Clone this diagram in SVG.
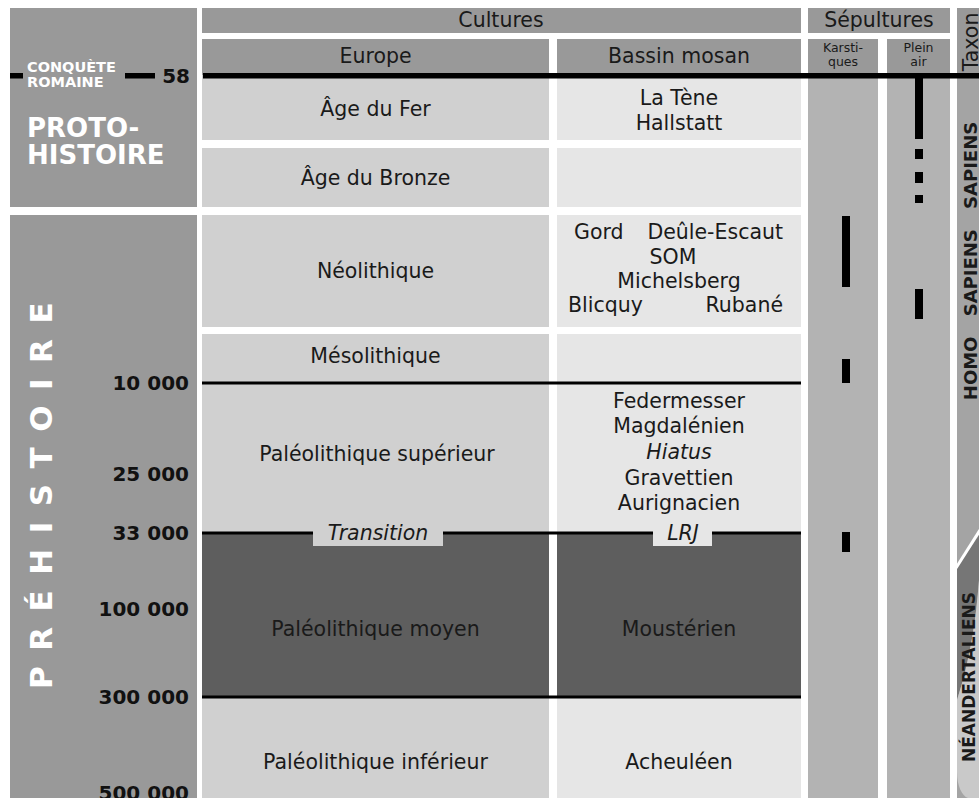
<svg xmlns="http://www.w3.org/2000/svg" width="979" height="798" viewBox="0 0 979 798">
<defs>
<style>
text{font-family:"DejaVu Sans","Liberation Sans",sans-serif;fill:#1a1a1a}
.hd{fill:#999999}
.eu{fill:#d0d0d0}
.bm{fill:#e6e6e6}
.dk{fill:#5e5e5e}
.sp{fill:#b3b3b3}
.t20{font-size:20.5px}
.mid{text-anchor:middle}
.end{text-anchor:end}
.it{font-style:italic}
.bw{font-weight:bold;fill:#ffffff}
.num{font-weight:bold;font-size:20px;text-anchor:end;fill:#111}
.bar{fill:#000}
.ln{fill:#000}
</style>
</defs>
<rect width="979" height="798" fill="#ffffff"/>

<g id="periode-protohistoire">
<rect class="hd" x="10" y="8" width="187" height="199"/>
<text class="bw" x="27" y="72" font-size="14.5">CONQUÈTE</text>
<text class="bw" x="27" y="86.5" font-size="14.5">ROMAINE</text>
<text class="bw" x="27" y="137" font-size="26">PROTO-</text>
<text class="bw" x="27" y="164" font-size="26">HISTOIRE</text>
</g>

<g id="periode-prehistoire">
<rect class="hd" x="10" y="215" width="187" height="590"/>
<text class="bw" transform="translate(52,488) rotate(-90)" font-size="31" letter-spacing="15.5" text-anchor="middle">PRÉHISTOIRE</text>
</g>

<g id="dates">
<text class="num" x="190" y="83">58</text>
<text class="num" x="189" y="390">10 000</text>
<text class="num" x="189" y="481">25 000</text>
<text class="num" x="189" y="540">33 000</text>
<text class="num" x="189" y="616">100 000</text>
<text class="num" x="189" y="704">300 000</text>
<text class="num" x="189" y="800">500 000</text>
</g>

<g id="entete-cultures">
<rect class="hd" x="202" y="8" width="599" height="25"/>
<text class="t20 mid" x="501" y="27">Cultures</text>
</g>
<g id="entete-europe">
<rect class="hd" x="202" y="39" width="347" height="36"/>
<text class="t20 mid" x="375.5" y="63">Europe</text>
</g>
<g id="entete-bassin">
<rect class="hd" x="557" y="39" width="244" height="36"/>
<text class="t20 mid" x="679" y="63">Bassin mosan</text>
</g>
<g id="entete-sepultures">
<rect class="hd" x="808" y="8" width="142" height="25"/>
<text class="t20 mid" x="879" y="27">Sépultures</text>
</g>
<g id="col-karstiques">
<rect class="hd" x="808" y="39" width="70" height="36"/>
<rect class="sp" x="808" y="75" width="70" height="730"/>
<text class="mid" x="843" y="52" font-size="12.5">Karsti-</text>
<text class="mid" x="843" y="66" font-size="12.5">ques</text>
</g>
<g id="col-plein-air">
<rect class="hd" x="887" y="39" width="63" height="36"/>
<rect class="sp" x="887" y="75" width="63" height="730"/>
<text class="mid" x="918.5" y="52" font-size="12.5">Plein</text>
<text class="mid" x="918.5" y="66" font-size="12.5">air</text>
</g>

<g id="col-taxon">
<rect class="hd" x="957" y="8" width="30" height="67"/>
<rect fill="#a4a4a4" x="957" y="75" width="30" height="730"/>
<path fill="#767676" d="M957,568 L979,535 L979,580 C976,620 970,660 957,700 Z"/>
<path fill="#c9c9c9" d="M979,580 C976,620 970,660 957,700 L957,772 C957,786 962,796 968,798 L979,798 Z"/>
<line x1="956" y1="568" x2="980" y2="530" stroke="#ffffff" stroke-width="3"/>
<text class="t20 mid" transform="translate(977.5,42) rotate(-90)">Taxon</text>
<text class="mid" transform="translate(977,261) rotate(-90)" font-size="18" font-weight="bold" word-spacing="14" fill="#111">HOMO SAPIENS SAPIENS</text>
<text class="mid" transform="translate(975,677) rotate(-90)" font-size="17" font-weight="bold" fill="#111">NÉANDERTALIENS</text>
</g>

<g id="age-fer">
<rect class="eu" x="202" y="75" width="347" height="65"/>
<text class="t20 mid" x="375.5" y="116">Âge du Fer</text>
</g>
<g id="bassin-fer">
<rect class="bm" x="557" y="75" width="244" height="65"/>
<text class="t20 mid" x="679" y="105">La Tène</text>
<text class="t20 mid" x="679" y="130">Hallstatt</text>
</g>
<g id="age-bronze">
<rect class="eu" x="202" y="148" width="347" height="59"/>
<text class="t20 mid" x="375.5" y="185">Âge du Bronze</text>
</g>
<g id="bassin-bronze">
<rect class="bm" x="557" y="148" width="244" height="59"/>
</g>
<g id="neolithique">
<rect class="eu" x="202" y="215" width="347" height="112"/>
<text class="t20 mid" x="375.5" y="278">Néolithique</text>
</g>
<g id="bassin-neolithique">
<rect class="bm" x="557" y="215" width="244" height="112"/>
<text class="t20" x="574" y="239">Gord</text>
<text class="t20 end" x="783" y="239">Deûle-Escaut</text>
<text class="t20 mid" x="673" y="264">SOM</text>
<text class="t20 mid" x="679" y="288">Michelsberg</text>
<text class="t20" x="568" y="312">Blicquy</text>
<text class="t20 end" x="783" y="312">Rubané</text>
</g>
<g id="mesolithique-paleo-sup">
<rect class="eu" x="202" y="334" width="347" height="199"/>
<text class="t20 mid" x="375.5" y="363">Mésolithique</text>
<text class="t20 mid" x="377" y="461">Paléolithique supérieur</text>
</g>
<g id="bassin-paleo-sup">
<rect class="bm" x="557" y="334" width="244" height="199"/>
<text class="t20 mid" x="679" y="408">Federmesser</text>
<text class="t20 mid" x="679" y="433">Magdalénien</text>
<text class="t20 mid it" x="679" y="459">Hiatus</text>
<text class="t20 mid" x="679" y="485">Gravettien</text>
<text class="t20 mid" x="679" y="510">Aurignacien</text>
</g>
<g id="paleo-moyen">
<rect class="dk" x="202" y="533" width="347" height="164"/>
<text class="t20 mid" x="375.5" y="636" fill="#0e0e0e">Paléolithique moyen</text>
</g>
<g id="bassin-paleo-moyen">
<rect class="dk" x="557" y="533" width="244" height="164"/>
<text class="t20 mid" x="679" y="636" fill="#0e0e0e">Moustérien</text>
</g>
<g id="paleo-inf">
<rect class="eu" x="202" y="697" width="347" height="110"/>
<text class="t20 mid" x="375.5" y="769">Paléolithique inférieur</text>
</g>
<g id="bassin-paleo-inf">
<rect class="bm" x="557" y="697" width="244" height="110"/>
<text class="t20 mid" x="679" y="769">Acheuléen</text>
</g>

<g id="connectors">
<rect class="ln" x="10" y="73" width="13" height="5.5"/>
<rect class="ln" x="125" y="73" width="30" height="5.5"/>
<rect class="ln" x="203" y="73" width="776" height="5.5"/>
<rect class="ln" x="202" y="381.5" width="599" height="3"/>
<rect class="ln" x="202" y="531.5" width="599" height="3"/>
<rect class="ln" x="202" y="695.5" width="599" height="3"/>
</g>

<g id="label-transition">
<rect class="eu" x="313" y="528" width="130" height="18"/>
<text class="t20 mid it" x="378" y="540">Transition</text>
</g>
<g id="label-lrj">
<rect class="bm" x="653" y="528" width="59" height="18"/>
<text class="t20 mid it" x="683" y="540">LRJ</text>
</g>

<g id="sepultures-marques">
<rect class="bar" x="915" y="75" width="8" height="64"/>
<rect class="bar" x="915" y="149" width="8" height="10"/>
<rect class="bar" x="915" y="172" width="8" height="11"/>
<rect class="bar" x="915" y="195" width="8" height="8"/>
<rect class="bar" x="915" y="289" width="8" height="30"/>
<rect class="bar" x="842" y="216" width="8" height="71"/>
<rect class="bar" x="842" y="359" width="8" height="24"/>
<rect class="bar" x="842" y="532" width="8" height="20"/>
</g>
</svg>
